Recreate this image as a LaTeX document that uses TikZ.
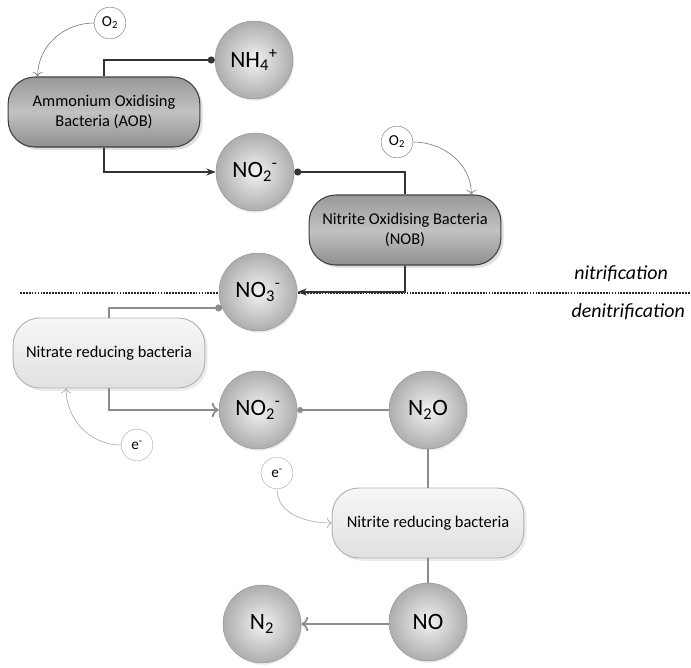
\documentclass[tikz,border=0pt]{standalone}
\usepackage{fontspec}
\setmainfont{Carlito}
\usetikzlibrary{arrows.meta,shadows}

\tikzset{
  species/.style={circle, draw=black!42, inner color=black!5, outer color=black!32,
    minimum size=2.34cm, inner sep=0pt, font=\fontsize{20}{23}\selectfont,
    drop shadow={opacity=0.15, shadow xshift=1pt, shadow yshift=-1.5pt}},
  oxbact/.style={rounded corners=0.8cm, draw=black!75, line width=0.9pt,
    top color=black!40, bottom color=black!44, middle color=black!24,
    minimum width=5.75cm, minimum height=2.1cm, align=center,
    font=\fontsize{14}{17}\selectfont, drop shadow={opacity=0.25}},
  redbact/.style={rounded corners=0.8cm, draw=black!30, line width=0.8pt,
    top color=black!3, bottom color=black!12,
    minimum width=5.75cm, minimum height=2.1cm, align=center,
    font=\fontsize{14}{17}\selectfont, drop shadow={opacity=0.15}},
  feed/.style={circle, draw=black!50, fill=white, minimum size=0.95cm, inner sep=0pt,
    font=\fontsize{13}{15}\selectfont},
  upline/.style={draw=black!80, line width=1.5pt},
  lowline/.style={draw=black!45, line width=1.5pt},
  feedarrow/.style={draw=black!55, line width=0.5pt, -{To[length=4pt]}},
  phase/.style={anchor=east, inner sep=0pt, font=\fontsize{17}{20}\selectfont\itshape},
}

\begin{document}
\begin{tikzpicture}[x=0.03cm,y=-0.03cm]
\useasboundingbox (0,0) rectangle (691,668);

% nitrification
\node[feed] (o2a) at (110,23) {O\textsubscript{2}};
\node[oxbact] (aob) at (104,112) {Ammonium Oxidising\\Bacteria (AOB)};
\node[species] (nh4) at (254,60) {NH\textsubscript{4}\textsuperscript{+}};
\node[species] (no2a) at (255,172) {NO\textsubscript{2}\textsuperscript{-}};
\node[feed] (o2b) at (397,142) {O\textsubscript{2}};
\node[oxbact] (nob) at (405,230) {Nitrite Oxidising Bacteria\\(NOB)};

\draw[dash pattern=on 1.5pt off 1pt, line width=1pt, black!85] (20,293) -- (691,293);
\node[phase] (nitri) at (668,274) {nitrification};
\node[phase] (denitri) at (685,312) {denitrification};

\node[species] (no3) at (258,292) {NO\textsubscript{3}\textsuperscript{-}};

\draw[upline, -{Circle[length=6pt]}] (aob.north) |- (nh4);
\draw[upline, -{Stealth[length=8pt]}] (aob.south) |- (no2a);
\draw[upline, {Circle[length=6pt]}-] (no2a) -| (nob.north);
\draw[upline, -{Stealth[length=8pt]}] (nob.south) |- (no3);
\draw[feedarrow] (o2a.west) to[out=180, in=90] ([xshift=0.9cm]aob.north west);
\draw[feedarrow] (o2b.east) to[out=0, in=90] ([xshift=-0.9cm]nob.north east);

% denitrification
\node[redbact] (nrb) at (109,353) {Nitrate reducing bacteria};
\node[species] (no2b) at (258,410) {NO\textsubscript{2}\textsuperscript{-}};
\node[species] (n2o) at (428,410) {N\textsubscript{2}O};
\node[feed, draw=black!30] (ea) at (137,445) {e\textsuperscript{-}};
\node[feed, draw=black!30] (eb) at (277,473) {e\textsuperscript{-}};
\node[redbact] (nirb) at (428,523) {Nitrite reducing bacteria};
\node[species] (no) at (428,622) {NO};
\node[species] (n2) at (262,624) {N\textsubscript{2}};

\draw[lowline, {Circle[length=6pt]}-] (no3.204) -| (nrb.north);
\draw[lowline, -{To[length=6pt]}] (nrb.south) |- (no2b);
\draw[lowline, {Circle[length=5pt]}-] (no2b) -- (n2o);
\draw[lowline] (n2o) -- (nirb.north);
\draw[lowline] (nirb.south) -- (no);
\draw[lowline, -{To[length=6pt]}] (no.west |- n2) -- (n2);
\draw[feedarrow, draw=black!35] (ea.west) to[out=180, in=270] ([xshift=1.6cm]nrb.south west);
\draw[feedarrow, draw=black!35] (eb.south) to[out=270, in=180] (nirb.west);
\end{tikzpicture}
\end{document}
